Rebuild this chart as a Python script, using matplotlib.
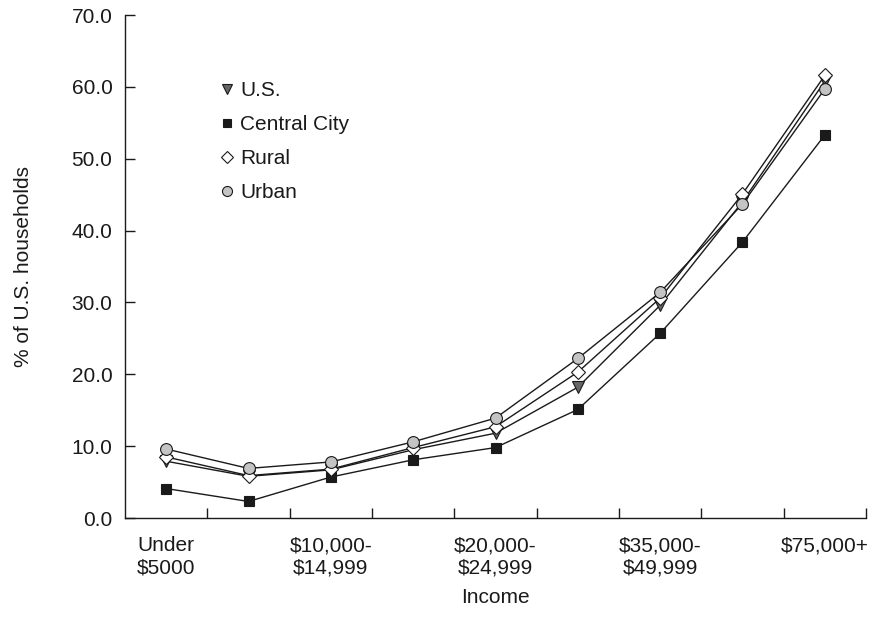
import numpy as np
import matplotlib.pyplot as plt
from matplotlib.ticker import FixedLocator, NullFormatter

plt.rcParams['font.family'] = ['Liberation Sans', 'DejaVu Sans']

# Income brackets (only every other one is labelled on the axis)
categories = ['Under\n$5000', '$5,000-\n$9,999', '$10,000-\n$14,999', '$15,000-\n$19,999',
              '$20,000-\n$24,999', '$25,000-\n$34,999', '$35,000-\n$49,999',
              '$50,000-\n$74,999', '$75,000+']

us = [7.9, 5.8, 6.7, 9.5, 11.8, 18.2, 29.6, 44.0, 60.8]
central_city = [4.1, 2.3, 5.7, 8.1, 9.8, 15.1, 25.7, 38.4, 53.3]
rural = [8.5, 5.9, 6.8, 9.8, 12.7, 20.3, 30.6, 45.1, 61.6]
urban = [9.6, 6.9, 7.8, 10.6, 13.9, 22.2, 31.4, 43.7, 59.7]

fs = 15
fig = plt.figure(figsize=(8.69, 6.34), dpi=100)
ax = fig.add_axes([125 / 869, 1 - 518 / 634, 741 / 869, 503 / 634])

x = np.arange(len(categories))
common = dict(color='#1a1a1a', linewidth=1.0, markeredgecolor='#1a1a1a',
              markeredgewidth=0.8)
ax.plot(x, us, marker='v', markersize=8.5, markerfacecolor='#666666', label='U.S.', **common)
ax.plot(x, central_city, marker='s', markersize=7.5, markerfacecolor='#1a1a1a',
        label='Central City', **common)
ax.plot(x, rural, marker='D', markersize=7.5, markerfacecolor='white', label='Rural', **common)
ax.plot(x, urban, marker='o', markersize=8.5, markerfacecolor='#c4c4c4', label='Urban', **common)

ax.set_xlim(-0.5, len(categories) - 0.5)
ax.set_ylim(0, 70)

# tick marks at bracket boundaries, labels at every other bracket centre
ax.xaxis.set_major_locator(FixedLocator(np.arange(0.5, len(categories), 1.0)))
ax.xaxis.set_major_formatter(NullFormatter())
ax.xaxis.set_minor_locator(FixedLocator(x[::2]))
ax.set_xticklabels([categories[i] for i in x[::2]], minor=True)
ax.tick_params(axis='x', which='major', direction='in', length=7, width=1, color='#1a1a1a')
ax.tick_params(axis='x', which='minor', length=0, pad=13, labelsize=fs, colors='#1a1a1a')

yt = np.arange(0, 71, 10)
ax.set_yticks(yt)
ax.set_yticklabels([f'{v:.1f}' for v in yt])
ax.tick_params(axis='y', direction='in', length=7, width=1, pad=9, labelsize=fs,
               colors='#1a1a1a')

for side in ['top', 'right']:
    ax.spines[side].set_visible(False)
for side in ['left', 'bottom']:
    ax.spines[side].set_color('#1a1a1a')
    ax.spines[side].set_linewidth(1.0)

ax.set_xlabel('Income', fontsize=fs, color='#1a1a1a', labelpad=8)
ax.set_ylabel('% of U.S. households', fontsize=fs, color='#1a1a1a', labelpad=28)

leg = ax.legend(loc='upper left', bbox_to_anchor=(0.105, 0.906), frameon=False,
                handlelength=0.5, handletextpad=0.4, labelspacing=0.72,
                fontsize=fs, markerscale=0.85)
for h in leg.get_lines():
    h.set_linestyle('none')
for t in leg.get_texts():
    t.set_color('#1a1a1a')

fig.savefig('out.png', dpi=100)
